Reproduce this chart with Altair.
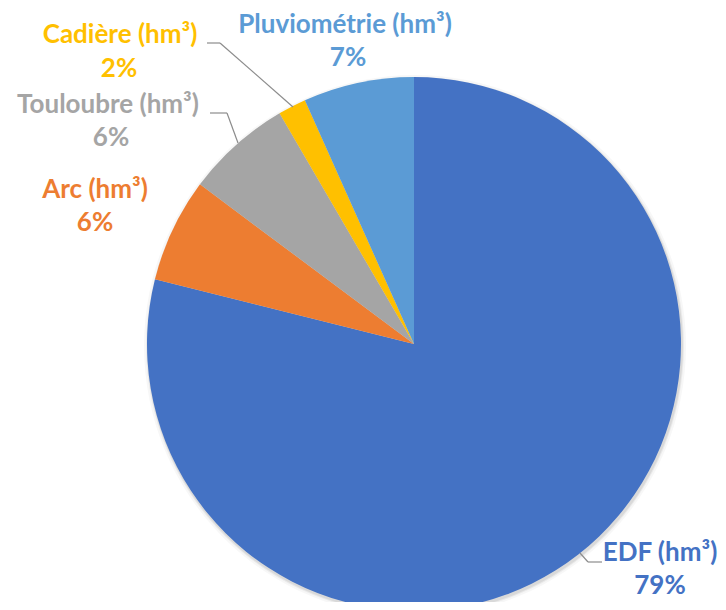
import altair as alt
import pandas as pd

# ---- data ----
categories = ["EDF (hm³)", "Arc (hm³)", "Touloubre (hm³)", "Cadière (hm³)", "Pluviométrie (hm³)"]
shares = [78.9, 6.3, 6.4, 1.7, 6.7]
pct_labels = ["79%", "6%", "6%", "2%", "7%"]
colors = ["#4472C4", "#ED7D31", "#A5A5A5", "#FFC000", "#5B9BD5"]

df = pd.DataFrame({
    "cat": categories,
    "val": shares,
    "pct": pct_labels,
    "order": list(range(len(categories))),
})

# ---- layout / style ----
CX, CY, R = 406, 336, 267
FONT = "Lato"
FS = 26
label_pos = {
    "EDF (hm³)": ((652, 545), (652, 578)),
    "Arc (hm³)": ((87, 182), (87, 215)),
    "Touloubre (hm³)": ((100, 97), (103, 130)),
    "Cadière (hm³)": ((112, 27), (111, 61)),
    "Pluviométrie (hm³)": ((337, 17), (340, 50)),
}
leaders = [
    [(199, 35), (212, 35), (285, 99)],
    [(202, 105), (219, 105), (230, 135)],
    [(572, 545), (580, 554), (594, 554)],
]

color_scale = alt.Scale(domain=categories, range=colors)

one = pd.DataFrame({"a": [0]})

shadow = [
    alt.Chart(one).mark_arc(x=CX + 1, y=CY + 2, radius=R + r, color="#000000", opacity=o).encode(
        theta=alt.value(6.2832)
    )
    for r, o in [(4, 0.03), (2, 0.05), (1, 0.07)]
]

pie = alt.Chart(df).mark_arc(x=CX, y=CY, radius=R, stroke=None).encode(
    theta=alt.Theta("val:Q", stack=True),
    color=alt.Color("cat:N", scale=color_scale, legend=None),
    order=alt.Order("order:Q", sort="ascending"),
)

texts = []
for cat in categories:
    (nx, ny), (px, py) = label_pos[cat]
    base = alt.Chart(df).transform_filter(alt.datum.cat == cat)
    texts.append(
        base.mark_text(x=nx, y=ny, font=FONT, fontSize=FS, fontWeight="bold", align="center", baseline="middle").encode(
            text="cat:N", color=alt.Color("cat:N", scale=color_scale, legend=None)
        )
    )
    texts.append(
        base.mark_text(x=px, y=py, font=FONT, fontSize=FS, fontWeight="bold", align="center", baseline="middle").encode(
            text="pct:N", color=alt.Color("cat:N", scale=color_scale, legend=None)
        )
    )

rules = []
for pts in leaders:
    for (x1, y1), (x2, y2) in zip(pts[:-1], pts[1:]):
        rules.append(
            alt.Chart(one).mark_rule(color="#8C8C8C", strokeWidth=1.2).encode(
                x=alt.value(x1), y=alt.value(y1), x2=alt.value(x2), y2=alt.value(y2)
            )
        )

chart = alt.layer(*shadow, pie, *rules, *texts).properties(
    width=710, height=594, autosize=alt.AutoSizeParams(type="none"), padding=0
).configure_view(stroke=None).resolve_scale(color="shared")

chart.save("out.html", embed_options={"renderer": "svg", "actions": False})
